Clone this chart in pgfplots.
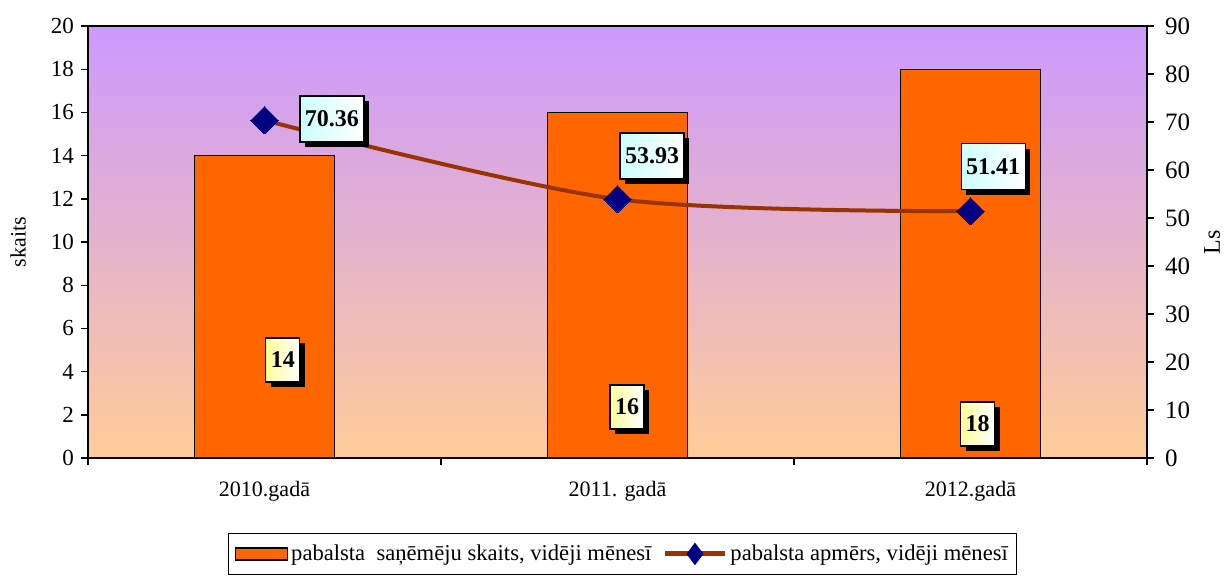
\documentclass[border=0pt]{standalone}
\usepackage{pgfplots}
\pgfplotsset{compat=1.18}
\usepackage{fontspec}
\setmainfont{Liberation Serif}
\usetikzlibrary{shadows}
\definecolor{barorange}{RGB}{255,102,0}
\definecolor{linebrown}{RGB}{153,51,0}
\definecolor{navyc}{RGB}{0,0,128}
\definecolor{bgtop}{RGB}{204,153,255}
\definecolor{bgbot}{RGB}{255,204,153}
\definecolor{lblyel}{RGB}{255,255,153}
\definecolor{lblcyan}{RGB}{204,255,255}
\begin{document}
\begin{tikzpicture}[font=\fontsize{11}{13}\selectfont]
\tikzset{
  lbl/.style={draw=black, line width=0.6pt, font=\fontsize{12}{14}\selectfont\bfseries,
    drop shadow={shadow xshift=2.5pt, shadow yshift=-2.5pt, opacity=1, fill=black},
    inner sep=0pt, minimum height=23pt, anchor=center},
  lblc/.style={lbl, left color=lblcyan, right color=white, minimum width=32pt},
  lbly/.style={lbl, left color=lblyel, right color=white, minimum width=17pt, minimum height=22pt},
}
\pgfplotsset{
  every axis/.append style={scale only axis, width=529.5pt, height=216pt,
    xmin=-0.5, xmax=2.5, /pgf/number format/assume math mode=true,
    tick align=outside, major tick length=3.5pt, minor tick length=3.5pt,
    tick style={black, line width=0.7pt}, axis line style={line width=0.8pt}},
}
\begin{axis}[
  ymin=0, ymax=20, ytick={0,2,...,20}, ytick pos=left,
  xtick={0,1,2}, xticklabels={2010.gadā, 2011. gadā, 2012.gadā}, xtick pos=bottom,
  major x tick style={draw=none},
  minor xtick={-0.5,0.5,1.5,2.5},
  x tick label style={yshift=-4.5pt, font=\fontsize{11}{13}\selectfont},
  y tick label style={font=\fontsize{11.5}{13}\selectfont},
  axis background/.style={top color=bgtop, bottom color=bgbot},
  ylabel={skaits}, ylabel style={at={(axis description cs:-0.0661,0.5)}, anchor=center, font=\fontsize{11}{13}\selectfont},
  ybar, bar width=0.397,
]
\addplot[fill=barorange, draw=black, line width=0.6pt] coordinates {(0,14) (1,16) (2,18)};
\end{axis}
\begin{axis}[
  ymin=0, ymax=90, ytick={0,10,...,90},
  axis y line*=right, axis x line=none,
  y tick label style={font=\fontsize{12.5}{14}\selectfont, xshift=2pt},
  ylabel={Ls}, ylabel style={at={(axis description cs:1.0614,0.5)}, anchor=center, font=\fontsize{12}{14}\selectfont},
  legend style={at={(0.1322,-0.1736)}, anchor=north west, legend columns=2, draw=black, line width=0.6pt,
    font=\fontsize{11.3}{13}\selectfont, inner xsep=3pt, inner ysep=4pt,
    /tikz/every even column/.append style={column sep=4pt},
    nodes={inner sep=1.5pt}},
]
\addlegendimage{legend image code/.code={\draw[fill=barorange, draw=black, line width=0.8pt] (0pt,-3pt) rectangle (26pt,3pt);}}
\addlegendentry{pabalsta\ \ saņēmēju skaits, vidēji mēnesī}
\addplot[linebrown, line width=2pt, smooth, mark=square*, mark size=4.8pt,
  mark options={rotate=45, fill=navyc, draw=navyc, line width=0pt},
  legend image code/.code={\draw[linebrown, line width=2.5pt] (0pt,0pt) -- (30pt,0pt);
     \fill[navyc] (15pt,4pt) -- (18pt,0pt) -- (15pt,-4pt) -- (12pt,0pt) -- cycle;}]
  coordinates {(0,70.36) (1,53.93) (2,51.41)};
\addlegendentry{pabalsta apmērs, vidēji mēnesī}
\node[lblc] at (axis cs:0.191,70.63) {70.36};
\node[lblc] at (axis cs:1.098,62.92) {53.93};
\node[lblc] at (axis cs:2.064,60.73) {51.41};
\node[lbly] at (axis cs:0.052,20.42) {14};
\node[lbly] at (axis cs:1.027,10.63) {16};
\node[lbly] at (axis cs:2.02,7.08) {18};
\end{axis}
\pgfresetboundingbox
\path[use as bounding box] (-44pt,-61pt) rectangle (569.5pt,229pt);
\end{tikzpicture}
\end{document}
